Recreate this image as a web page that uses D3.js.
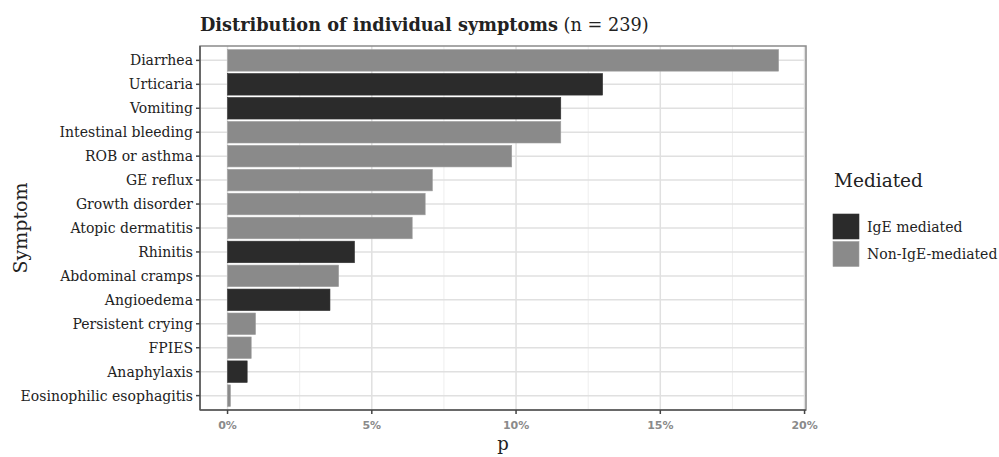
<!DOCTYPE html>
<html><head><meta charset="utf-8">
<script src="https://cdn.jsdelivr.net/npm/d3@7"></script>
<style>body{margin:0;background:#fff}svg{display:block}</style>
</head><body>
<script>
const symptoms = ["Diarrhea","Urticaria","Vomiting","Intestinal bleeding","ROB or asthma","GE reflux","Growth disorder","Atopic dermatitis","Rhinitis","Abdominal cramps","Angioedema","Persistent crying","FPIES","Anaphylaxis","Eosinophilic esophagitis"];
const pValues = [19.1, 13.0, 11.55, 11.55, 9.85, 7.1, 6.85, 6.4, 4.4, 3.85, 3.55, 0.97, 0.82, 0.68, 0.1];
const mediated = ["Non","IgE","IgE","Non","Non","Non","Non","Non","IgE","Non","IgE","Non","Non","IgE","Non"];
const xTicks = [0,5,10,15,20];
const xTickLabels = ["0%","5%","10%","15%","20%"];
const legendKeys = ["IgE","Non"];
const legendLabels = ["IgE mediated","Non-IgE-mediated"];

const W=999,H=457;
const svg=d3.select("body").append("svg").attr("width",W).attr("height",H);
const serif="'Palatino Linotype','Book Antiqua',Palatino,'DejaVu Serif',serif";
const panel={l:200,r:806,t:46,b:410};
const maxV=d3.max(pValues);
const x=d3.scaleLinear().domain([-0.05*maxV,20.05]).range([panel.l,panel.r]);
const step=(panel.b-panel.t)/(symptoms.length+0.2);
const yc=d=>panel.t+step*(0.6+symptoms.indexOf(d));
const color=d3.scaleOrdinal().domain(legendKeys).range(["#2b2b2b","#8a8a8a"]);

const g=svg.append("g");
g.append("rect").attr("x",panel.l).attr("y",panel.t).attr("width",panel.r-panel.l).attr("height",panel.b-panel.t).attr("fill","#fff");
[2.5,7.5,12.5,17.5].forEach(v=>g.append("line").attr("x1",x(v)).attr("x2",x(v)).attr("y1",panel.t).attr("y2",panel.b).attr("stroke","#eeeeee").attr("stroke-width",1));
xTicks.forEach(v=>g.append("line").attr("x1",x(v)).attr("x2",x(v)).attr("y1",panel.t).attr("y2",panel.b).attr("stroke","#e0e0e0").attr("stroke-width",1.5));
symptoms.forEach(s=>g.append("line").attr("x1",panel.l).attr("x2",panel.r).attr("y1",yc(s)).attr("y2",yc(s)).attr("stroke","#e0e0e0").attr("stroke-width",1.5));

g.selectAll("rect.bar").data(symptoms).enter().append("rect").attr("class","bar")
 .attr("x",x(0)).attr("y",(d)=>yc(d)-step*0.45).attr("height",step*0.9)
 .attr("width",(d,i)=>x(pValues[i])-x(0))
 .attr("fill",(d,i)=>color(mediated[i]))
 .attr("stroke",(d,i)=>d3.color(color(mediated[i])).brighter(0.4)).attr("stroke-width",0.6);

g.append("rect").attr("x",panel.l).attr("y",panel.t).attr("width",panel.r-panel.l).attr("height",panel.b-panel.t).attr("fill","none").attr("stroke","#8a8a8a").attr("stroke-width",1.5);
g.append("line").attr("x1",panel.l).attr("x2",panel.l).attr("y1",panel.t).attr("y2",panel.b).attr("stroke","#555").attr("stroke-width",1.5);
g.append("line").attr("x1",panel.l).attr("x2",panel.r).attr("y1",panel.b).attr("y2",panel.b).attr("stroke","#555").attr("stroke-width",1.5);

symptoms.forEach(s=>{
  g.append("line").attr("x1",panel.l-4).attr("x2",panel.l).attr("y1",yc(s)).attr("y2",yc(s)).attr("stroke","#444").attr("stroke-width",1.5);
  g.append("text").attr("x",panel.l-7).attr("y",yc(s)).attr("dy","0.35em").attr("text-anchor","end")
   .attr("font-family",serif).attr("font-size",14).attr("fill","#222").text(s);
});
xTicks.forEach((v,i)=>{
  g.append("line").attr("x1",x(v)).attr("x2",x(v)).attr("y1",panel.b).attr("y2",panel.b+4).attr("stroke","#444").attr("stroke-width",1.5);
  g.append("text").attr("x",x(v)).attr("y",panel.b+19).attr("text-anchor","middle")
   .attr("font-family","'DejaVu Sans',sans-serif").attr("font-size",11).attr("font-weight","bold").attr("fill","#8a8a8a").text(xTickLabels[i]);
});

svg.append("text").attr("x",(panel.l+panel.r)/2).attr("y",450).attr("text-anchor","middle")
  .attr("font-family",serif).attr("font-size",18).attr("fill","#222").text("p");
svg.append("text").attr("transform",`translate(27,${(panel.t+panel.b)/2}) rotate(-90)`).attr("text-anchor","middle")
  .attr("font-family",serif).attr("font-size",19).attr("fill","#222").text("Symptom");

const t=svg.append("text").attr("x",panel.l).attr("y",31).attr("font-family",serif).attr("font-size",17.7).attr("fill","#222");
t.append("tspan").attr("font-weight","bold").text("Distribution of individual symptoms");
t.append("tspan").text(" (n = 239)");

svg.append("text").attr("x",834).attr("y",187).attr("font-family",serif).attr("font-size",18.5).attr("fill","#222").text("Mediated");
legendKeys.forEach((k,i)=>{
  svg.append("rect").attr("x",833).attr("y",214+i*27.5).attr("width",26).attr("height",25).attr("fill",color(k))
   .attr("stroke",d3.color(color(k)).brighter(0.4)).attr("stroke-width",0.6);
  svg.append("text").attr("x",867).attr("y",227+i*27.5).attr("dy","0.35em").attr("font-family",serif).attr("font-size",14).attr("fill","#222").text(legendLabels[i]);
});
</script>
</body></html>
